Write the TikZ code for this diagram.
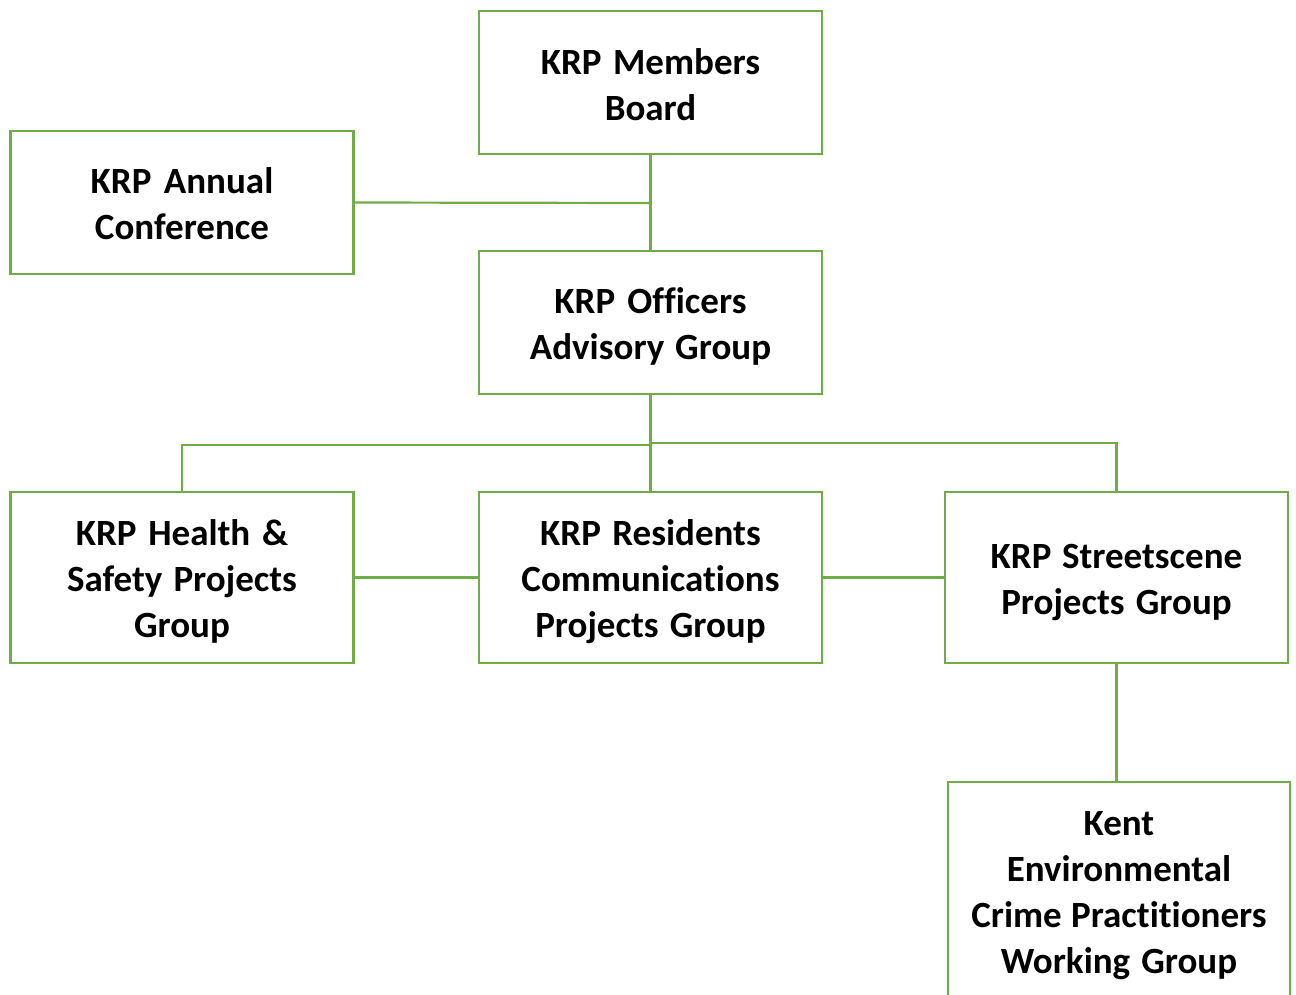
\documentclass[tikz,border=0pt]{standalone}
\usepackage{fontspec}
\setmainfont{Carlito}[Ligatures=NoCommon]
\definecolor{krpgreen}{HTML}{70AD47}
\begin{document}
\begin{tikzpicture}[x=1pt,y=-1pt,
  box/.style={draw=krpgreen, line width=2.2pt, fill=white,
    inner sep=0pt, minimum width=343pt},
  boxtext/.style={align=center, inner sep=0pt, text width=330pt,
    font=\bfseries\fontsize{37}{46}\selectfont,
    execute at begin node={\spaceskip=0pt\relax}},
  link/.style={draw=krpgreen, line width=2.2pt}]
\useasboundingbox (0,0) rectangle (1296,994);
\clip (0,0) rectangle (1296,994);

% boxes
\node[box, minimum height=143pt] (board) at (650.5,82.5) {};
\node[box, minimum height=143pt] (conf) at (182,202.5) {};
\node[box, minimum height=143pt] (officers) at (650.5,322.5) {};
\node[box, minimum height=171pt] (health) at (182,577.5) {};
\node[box, minimum height=171pt] (residents) at (650.5,577.5) {};
\node[box, minimum height=171pt] (street) at (1116.5,577.5) {};
\node[box, minimum height=221pt, minimum width=342pt] (kent) at (1119,892.5) {};

% box texts
\node[boxtext] (boardtxt) at ([yshift=-2.5pt]board.center) {KRP Members\\Board};
\node[boxtext] (conftxt) at ([yshift=-1pt]conf.center) {KRP Annual\\Conference};
\node[boxtext] (officerstxt) at ([yshift=-4pt]officers.center) {KRP Officers\\Advisory Group};
\node[boxtext] (healthtxt) at ([yshift=-4pt]health.center) {KRP Health \&\\Safety Projects\\Group};
\node[boxtext] (residentstxt) at ([yshift=-4pt]residents.center) {KRP Residents\\Communications\\Projects Group};
\node[boxtext] (streettxt) at ([yshift=-5pt]street.center) {KRP Streetscene\\Projects Group};
\node[boxtext] (kenttxt) at ([yshift=-3pt]kent.center) {Kent\\Environmental\\Crime Practitioners\\Working Group};

% junction points
\coordinate (confjoin) at (650.5,203);
\coordinate (leftbar) at (650.5,445);
\coordinate (rightbar) at (650.5,443);

% connectors
\draw[link] (board.south) -- (officers.north);
\draw[link] (conf.east) -- (confjoin);
\draw[link] (officers.south) -- (residents.north);
\draw[link] (health.north) |- (leftbar);
\draw[link] (street.north) |- (rightbar);
\draw[link] (health.east) -- (residents.west);
\draw[link] (residents.east) -- (street.west);
\draw[link] (street.south) -- (street.south |- kent.north);
\end{tikzpicture}
\end{document}
